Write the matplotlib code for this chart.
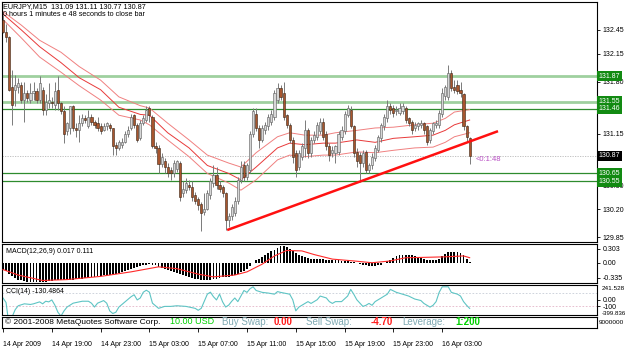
import numpy as np
import matplotlib
matplotlib.use("Agg")
import matplotlib.pyplot as plt

plt.rcParams["font.family"] = ["Liberation Sans", "DejaVu Sans"]

# ==========================================================
# DATA  (EURJPY M15, one entry per bar, 14 Apr 15:00 -> 16 Apr 05:15)
# ==========================================================

opens = [132.58, 132.43, 132.36, 131.74, 131.70, 131.74, 131.76, 131.57, 131.66, 131.57,
         131.66, 131.68, 131.57, 131.70, 131.45, 131.53, 131.55, 131.51, 131.70, 131.53,
         131.43, 131.18, 131.22, 131.49, 131.22, 131.20, 131.28, 131.34, 131.24, 131.36,
         131.30, 131.28, 131.24, 131.20, 131.24, 131.26, 131.22, 131.01, 130.97, 131.01,
         131.05, 131.15, 131.22, 131.38, 131.26, 131.09, 131.28, 131.32, 131.47, 131.36,
         131.00, 130.97, 130.77, 130.80, 130.73, 130.69, 130.65, 130.71, 130.78, 130.40,
         130.44, 130.51, 130.48, 130.38, 130.33, 130.27, 130.17, 130.21, 130.38, 130.53,
         130.63, 130.50, 130.48, 130.40, 130.06, 130.11, 130.15, 130.31, 130.57, 130.75,
         130.61, 130.69, 131.15, 131.40, 131.22, 131.07, 131.20, 131.24, 131.30, 131.36,
         131.57, 131.72, 131.66, 131.38, 131.26, 131.07, 130.90, 130.73, 130.86, 130.97,
         131.20, 130.90, 131.07, 131.11, 131.18, 131.30, 131.15, 130.99, 130.90, 130.90,
         130.92, 131.11, 131.18, 131.38, 131.45, 131.24, 130.92, 130.88, 130.78, 130.92,
         130.69, 130.75, 130.84, 130.95, 131.09, 131.24, 131.34, 131.49, 131.47, 131.43,
         131.41, 131.43, 131.47, 131.34, 131.30, 131.22, 131.24, 131.26, 131.28, 131.24,
         131.07, 131.18, 131.26, 131.26, 131.40, 131.62, 131.61, 131.91, 131.74, 131.76,
         131.70, 131.64, 131.24, 131.09]
highs = [132.64, 132.53, 132.37, 131.95, 131.89, 131.85, 131.80, 131.80, 131.70, 131.78,
         131.80, 131.72, 131.87, 131.74, 131.64, 131.78, 131.61, 131.80, 131.87, 131.55,
         131.49, 131.30, 131.49, 131.51, 131.28, 131.38, 131.40, 131.38, 131.45, 131.40,
         131.32, 131.36, 131.28, 131.28, 131.30, 131.28, 131.22, 131.05, 131.07, 131.09,
         131.18, 131.24, 131.40, 131.40, 131.28, 131.32, 131.38, 131.49, 131.49, 131.38,
         131.05, 131.01, 130.90, 130.84, 130.78, 130.73, 130.82, 130.82, 130.80, 130.55,
         130.59, 130.57, 130.55, 130.42, 130.36, 130.29, 130.40, 130.44, 130.59, 130.75,
         130.73, 130.55, 130.50, 130.42, 130.15, 130.27, 130.36, 130.61, 130.80, 130.80,
         130.78, 131.18, 131.47, 131.47, 131.26, 131.26, 131.30, 131.40, 131.45, 131.70,
         131.78, 131.76, 131.80, 131.40, 131.28, 131.11, 130.94, 130.94, 131.03, 131.32,
         131.22, 131.11, 131.18, 131.30, 131.34, 131.34, 131.18, 131.03, 130.99, 131.01,
         131.18, 131.24, 131.43, 131.51, 131.49, 131.26, 130.97, 130.92, 130.94, 130.94,
         130.78, 130.90, 131.01, 131.13, 131.28, 131.40, 131.57, 131.53, 131.51, 131.49,
         131.53, 131.53, 131.49, 131.36, 131.32, 131.30, 131.30, 131.32, 131.30, 131.26,
         131.22, 131.30, 131.32, 131.45, 131.72, 131.76, 132.01, 131.95, 131.82, 131.82,
         131.80, 131.66, 131.26, 131.11]
lows = [132.41, 132.30, 131.68, 131.26, 131.49, 131.66, 131.53, 131.30, 131.55, 131.53,
        131.57, 131.53, 131.53, 131.38, 131.38, 131.47, 131.47, 131.45, 131.45, 131.40,
        131.03, 131.13, 131.15, 131.18, 131.11, 131.05, 131.24, 131.28, 131.22, 131.26,
        131.22, 131.18, 131.15, 131.18, 131.20, 131.18, 130.88, 130.88, 130.94, 130.97,
        131.03, 131.11, 131.20, 131.22, 131.05, 131.07, 131.26, 131.30, 131.30, 130.97,
        130.90, 130.65, 130.73, 130.65, 130.61, 130.57, 130.61, 130.67, 130.31, 130.36,
        130.40, 130.44, 130.31, 130.27, 130.19, 129.93, 130.13, 130.19, 130.33, 130.48,
        130.46, 130.42, 130.36, 129.94, 129.98, 130.06, 130.11, 130.27, 130.53, 130.55,
        130.57, 130.65, 131.11, 131.18, 130.97, 131.05, 131.15, 131.20, 131.26, 131.32,
        131.53, 131.57, 131.32, 131.22, 131.03, 130.78, 130.61, 130.69, 130.82, 130.86,
        130.84, 130.86, 131.03, 131.07, 131.15, 131.07, 130.94, 130.80, 130.86, 130.78,
        130.88, 131.07, 131.15, 131.36, 131.22, 130.86, 130.73, 130.54, 130.73, 130.65,
        130.65, 130.71, 130.80, 130.92, 131.05, 131.20, 131.30, 131.40, 131.36, 131.38,
        131.38, 131.40, 131.28, 131.24, 131.15, 131.18, 131.20, 131.22, 131.15, 131.01,
        131.03, 131.15, 131.22, 131.22, 131.36, 131.57, 131.57, 131.68, 131.66, 131.64,
        131.61, 131.20, 131.05, 130.77]
closes = [132.43, 132.36, 131.70, 131.51, 131.76, 131.78, 131.57, 131.66, 131.59, 131.66,
          131.68, 131.57, 131.78, 131.45, 131.55, 131.57, 131.53, 131.68, 131.53, 131.43,
          131.15, 131.28, 131.49, 131.22, 131.20, 131.28, 131.34, 131.32, 131.36, 131.30,
          131.26, 131.22, 131.18, 131.24, 131.28, 131.22, 130.99, 130.97, 131.05, 131.05,
          131.15, 131.20, 131.36, 131.26, 131.07, 131.28, 131.34, 131.45, 131.38, 131.00,
          130.97, 130.77, 130.86, 130.73, 130.65, 130.65, 130.78, 130.80, 130.36, 130.46,
          130.53, 130.48, 130.36, 130.31, 130.25, 130.15, 130.21, 130.40, 130.55, 130.63,
          130.50, 130.46, 130.40, 130.06, 130.11, 130.23, 130.31, 130.57, 130.73, 130.61,
          130.75, 131.15, 131.43, 131.22, 131.07, 131.22, 131.26, 131.36, 131.40, 131.66,
          131.72, 131.61, 131.36, 131.26, 131.07, 130.86, 130.69, 130.90, 130.99, 131.20,
          130.90, 131.07, 131.13, 131.26, 131.30, 131.11, 130.99, 130.88, 130.94, 130.99,
          131.15, 131.20, 131.40, 131.47, 131.24, 130.90, 130.80, 130.78, 130.90, 130.69,
          130.75, 130.86, 130.97, 131.11, 131.26, 131.36, 131.49, 131.45, 131.41, 131.45,
          131.47, 131.49, 131.32, 131.28, 131.20, 131.26, 131.28, 131.28, 131.20, 131.05,
          131.20, 131.28, 131.28, 131.41, 131.66, 131.74, 131.91, 131.72, 131.70, 131.68,
          131.66, 131.24, 131.11, 130.87]

# moving average bands, read at these bar positions
ma_idx = [0, 6, 12, 19, 25, 32, 38, 45, 48, 54, 61, 67, 74, 78, 83, 90, 94, 99,
          105, 109, 116, 122, 128, 135, 141, 145, 148, 153]
ma_upper = [132.68, 132.51, 132.32, 132.17, 131.99, 131.82, 131.61, 131.50, 131.47, 131.28,
            131.07, 130.88, 130.78, 130.73, 130.91, 131.11, 131.16, 131.13, 131.13, 131.16,
            131.19, 131.22, 131.23, 131.26, 131.28, 131.34, 131.42, 131.45]
ma_mid = [132.65, 132.45, 132.24, 132.04, 131.85, 131.70, 131.48, 131.39, 131.38, 131.16,
          130.97, 130.75, 130.65, 130.57, 130.73, 130.97, 131.03, 131.01, 131.03, 131.03,
          131.07, 131.04, 131.09, 131.11, 131.13, 131.19, 131.26, 131.32]
ma_lower = [132.58, 132.35, 132.11, 131.92, 131.75, 131.57, 131.38, 131.32, 131.26, 131.07,
            130.86, 130.65, 130.53, 130.44, 130.57, 130.82, 130.88, 130.86, 130.88, 130.88,
            130.92, 130.91, 130.94, 130.97, 130.98, 131.04, 131.11, 131.16]

# horizontal levels
levels_light = [131.87, 131.55]
levels_dark = [131.46, 130.65, 130.55]
bid = 130.87
price_ticks = [132.45, 132.15, 131.80, 131.15, 130.50, 130.20, 129.85]

# trend line anchors (bar index, price)
trend_x = [73.5, 162.3]
trend_y = [129.94, 131.18]

# MACD(12,26,9) main values per bar
macd = [-0.15, -0.19, -0.24, -0.29, -0.33, -0.37, -0.39, -0.41, -0.42, -0.43,
        -0.43, -0.43, -0.43, -0.43, -0.42, -0.41, -0.40, -0.39, -0.38, -0.38,
        -0.38, -0.38, -0.37, -0.37, -0.36, -0.36, -0.35, -0.34, -0.33, -0.32,
        -0.31, -0.30, -0.29, -0.28, -0.27, -0.26, -0.25, -0.24, -0.22, -0.20,
        -0.18, -0.16, -0.13, -0.11, -0.09, -0.07, -0.05, -0.04, -0.03, -0.04,
        -0.06, -0.09, -0.11, -0.13, -0.16, -0.18, -0.20, -0.22, -0.25, -0.27,
        -0.29, -0.31, -0.33, -0.35, -0.36, -0.37, -0.38, -0.38, -0.37, -0.36,
        -0.35, -0.33, -0.32, -0.32, -0.31, -0.29, -0.27, -0.24, -0.21, -0.18,
        -0.14, -0.08, 0.00, 0.05, 0.09, 0.13, 0.17, 0.21, 0.25, 0.29,
        0.33, 0.36, 0.37, 0.35, 0.31, 0.26, 0.21, 0.17, 0.14, 0.12,
        0.10, 0.09, 0.09, 0.09, 0.09, 0.08, 0.07, 0.06, 0.05, 0.05,
        0.05, 0.04, 0.04, 0.03, 0.02, 0.01, 0.00, -0.02, -0.04, -0.05,
        -0.07, -0.08, -0.08, -0.06, -0.04, -0.01, 0.03, 0.07, 0.11, 0.14,
        0.16, 0.17, 0.17, 0.17, 0.16, 0.14, 0.12, 0.10, 0.08, 0.06,
        0.05, 0.05, 0.06, 0.09, 0.14, 0.19, 0.23, 0.24, 0.24, 0.23,
        0.21, 0.16, 0.08, 0.017]
signal_idx = [0, 5, 13, 21, 32, 42, 51, 57, 64, 69, 76, 80, 85, 89, 93, 98, 102, 108,
              115, 121, 127, 132, 139, 145, 151, 153]
signal = [-0.15, -0.27, -0.39, -0.37, -0.30, -0.20, -0.09, -0.13, -0.25, -0.31, -0.27,
          -0.20, -0.03, 0.15, 0.27, 0.26, 0.18, 0.08, 0.04, 0.00, 0.04, 0.11, 0.12, 0.13,
          0.15, 0.111]

# CCI(14), read at these bar positions
cci_idx = [0, 1, 2, 3, 4, 5, 7, 9, 10, 12, 13, 14, 15, 16, 17, 18, 19, 20, 21, 22,
           23, 25, 26, 28, 29, 30, 31, 33, 34, 35, 36, 37, 38, 40, 42, 43, 44, 45, 46, 47,
           48, 49, 51, 53, 55, 57, 60, 63, 64, 65, 66, 67, 68, 69, 70, 71, 72, 73, 74, 75,
           76, 77, 79, 80, 81, 82, 83, 85, 87, 89, 90, 91, 94, 95, 96, 97, 99, 100, 101, 103,
           104, 106, 107, 108, 109, 111, 113, 114, 115, 116, 118, 119, 120, 121, 122, 124, 126, 127, 129, 131,
           133, 135, 137, 138, 140, 141, 142, 143, 144, 146, 147, 149, 150, 151, 152, 153]
cci = [30, -40, -399.8, -260, -150, -90, -60, -70, -60, -30, -60, -20, -30, 0, -80, -190, -250, -170, -110, -80,
       -50, -30, -20, -20, -50, -110, -50, -10, -50, -170, -210, -190, -110, -30, 50, 80, 0, 30, 120, 150,
       120, -50, -130, -100, -100, -90, -100, -130, -160, -130, -20, 90, 120, 50, 0, 90, -30, -110, -80, -20,
       30, -26, 146, 117, 174, 203, 146, 117, 106, 89, 129, 117, 89, 3, -169, -111, -54, -26, -54, 3,
       60, 31, -26, -54, -26, -26, 60, 163, 89, 3, -100, -83, -54, -83, -26, 31, 89, 163, 117, 89,
       60, 14, -9, -54, -111, -83, -26, 117, 203, 203, 117, 89, 60, -26, -83, -130.49]

time_idx = [0, 16, 32, 48, 64, 80, 96, 112, 128, 144]
time_labels = ["14 Apr 2009", "14 Apr 19:00", "14 Apr 23:00", "15 Apr 03:00", "15 Apr 07:00",
               "15 Apr 11:00", "15 Apr 15:00", "15 Apr 19:00", "15 Apr 23:00", "16 Apr 03:00"]

# ==========================================================
# FIGURE / PANELS  (pixel layout of the terminal window)
# ==========================================================

W, H = 625, 352
fig = plt.figure(figsize=(W / 100, H / 100), dpi=100)


def box(x0, y0, x1, y1):
    return [x0 / W, 1 - y1 / H, (x1 - x0) / W, (y1 - y0) / H]


ax = fig.add_axes(box(2, 2, 597, 242))
ax_macd = fig.add_axes(box(2, 244, 597, 283))
ax_cci = fig.add_axes(box(2, 285, 597, 315))
ax_info = fig.add_axes(box(2, 317, 597, 328))

for a in (ax, ax_macd, ax_cci, ax_info):
    a.set_xlim(-1 / 3.05, 594 / 3.05)
    a.set_xticks([])
    a.yaxis.tick_right()
    a.tick_params(axis="y", length=2, width=0.6, pad=2, labelsize=5)
    for s in a.spines.values():
        s.set_linewidth(0.8)

# ==========================================================
# MAIN PRICE PANEL
# ==========================================================

idx = np.arange(len(closes))
o = np.array(opens)
h = np.array(highs)
l = np.array(lows)
c = np.array(closes)
up = c >= o
body_lo = np.minimum(o, c)
body_h = np.maximum(np.abs(c - o), 0.008)

ax.set_ylim(129.79, 132.80)
ax.set_yticks(price_ticks)
ax.set_yticklabels([f"{p:.2f}" for p in price_ticks])

for lv in levels_light:
    ax.axhline(lv, color="#9fd09f", lw=2.0, zorder=1)
for lv in levels_dark:
    ax.axhline(lv, color="#2e8b2e", lw=0.9, zorder=1)
ax.axhline(bid, color="#b8b8b8", lw=0.6, ls=(0, (1.5, 1.5)), zorder=1)

ax.plot(ma_idx, ma_upper, color="#f08080", lw=0.7, zorder=2)
ax.plot(ma_idx, ma_mid, color="#e83a3a", lw=0.7, zorder=2)
ax.plot(ma_idx, ma_lower, color="#f08080", lw=0.7, zorder=2)

ax.vlines(idx, l, h, color="#7a7a7a", lw=0.7, zorder=3)
ax.bar(idx[up], body_h[up], bottom=body_lo[up], width=0.7,
       color="#d6d6d6", edgecolor="#5a5a5a", lw=0.4, zorder=4)
ax.bar(idx[~up], body_h[~up], bottom=body_lo[~up], width=0.7,
       color="#a8552e", edgecolor="#3a2414", lw=0.4, zorder=4)

ax.plot(trend_x, trend_y, color="#ff1010", lw=1.8, zorder=5, solid_capstyle="butt")

ax.text(idx[-1] + 2, bid - 0.04, "<0:1:48", color="#b94fc4", fontsize=5.5,
        va="center", ha="left", zorder=6)

for lv in levels_light + levels_dark:
    ax.text(1.003, lv, f"{lv:.2f}", transform=ax.get_yaxis_transform(), fontsize=5,
            color="white", va="center", ha="left", clip_on=False, zorder=10,
            bbox=dict(boxstyle="square,pad=0.25", fc="#128a12", ec="none"))
ax.text(1.003, bid, f"{bid:.2f}", transform=ax.get_yaxis_transform(), fontsize=5,
        color="white", va="center", ha="left", clip_on=False, zorder=10,
        bbox=dict(boxstyle="square,pad=0.25", fc="black", ec="none"))

fig.text(3 / W, 1 - 7 / H, "EURJPY,M15  131.09 131.11 130.77 130.87",
         fontsize=5.2, va="center", ha="left")
fig.text(3 / W, 1 - 15 / H, "0 hours 1 minutes e 48 seconds to close bar",
         fontsize=5.2, va="center", ha="left")

# ==========================================================
# MACD
# ==========================================================

ax_macd.set_ylim(-0.445, 0.412)
ax_macd.bar(np.arange(len(macd)), macd, width=0.6, color="black", zorder=2)
ax_macd.plot(signal_idx, signal, color="#ff2a2a", lw=0.8, zorder=3)
ax_macd.set_yticks([0.303, 0.0, -0.335])
ax_macd.set_yticklabels(["0.303", "0.00", "-0.335"])
ax_macd.text(0.006, 0.8, "MACD(12,26,9) 0.017 0.111", transform=ax_macd.transAxes,
             fontsize=5, va="center", ha="left")

# ==========================================================
# CCI
# ==========================================================

ax_cci.set_ylim(-233, 231)
ax_cci.axhline(100, color="#c6ccd6", lw=0.6, ls=(0, (2, 2)), zorder=1)
ax_cci.axhline(-100, color="#e3b4c8", lw=0.6, ls=(0, (2, 2)), zorder=1)
ax_cci.plot(cci_idx, cci, color="#5ec4c4", lw=0.8, zorder=2)
ax_cci.set_yticks([0, -100])
ax_cci.set_yticklabels(["0.00", "-100"])
ax_cci.text(1.008, 0.9, "241.528", transform=ax_cci.transAxes, fontsize=4.6,
            va="center", ha="left", clip_on=False)
ax_cci.text(1.008, 0.06, "-399.836", transform=ax_cci.transAxes, fontsize=4.4,
            va="center", ha="left", clip_on=False)
ax_cci.text(0.006, 0.77, "CCI(14) -130.4864", transform=ax_cci.transAxes,
            fontsize=5, va="center", ha="left")

# ==========================================================
# INFO BAR + TIME AXIS
# ==========================================================

ax_info.set_yticks([])
ax_info.set_xticks(time_idx)
ax_info.set_xticklabels(time_labels, ha="left", fontsize=5)
ax_info.tick_params(axis="x", length=3, width=0.6, pad=6)

info_y = 1 - 322 / H
teal = "#7fa9b2"
fig.text(5 / W, info_y, "\u00a9 2001-2008 MetaQuotes Software Corp.",
         color="black", fontsize=6, va="center")
fig.text(170 / W, info_y, "10.00 USD", color="#00d000", fontsize=6.5, va="center")
fig.text(222 / W, info_y, "Buy Swap:", color=teal, fontsize=7, va="center")
fig.text(274 / W, info_y, "0.00", color="#ff1a1a", fontsize=7, va="center", weight="bold")
fig.text(306 / W, info_y, "Sell Swap:", color=teal, fontsize=7, va="center")
fig.text(371 / W, info_y, "-4.70", color="#ff1a1a", fontsize=7, va="center", weight="bold")
fig.text(402 / W, info_y, "Leverage:", color=teal, fontsize=7, va="center")
fig.text(455 / W, info_y, "1:200", color="#00d000", fontsize=7, va="center", weight="bold")
fig.text(599 / W, 1 - 322 / H, "9000000", fontsize=4.6, va="center")

fig.savefig("out.png", dpi=100)
